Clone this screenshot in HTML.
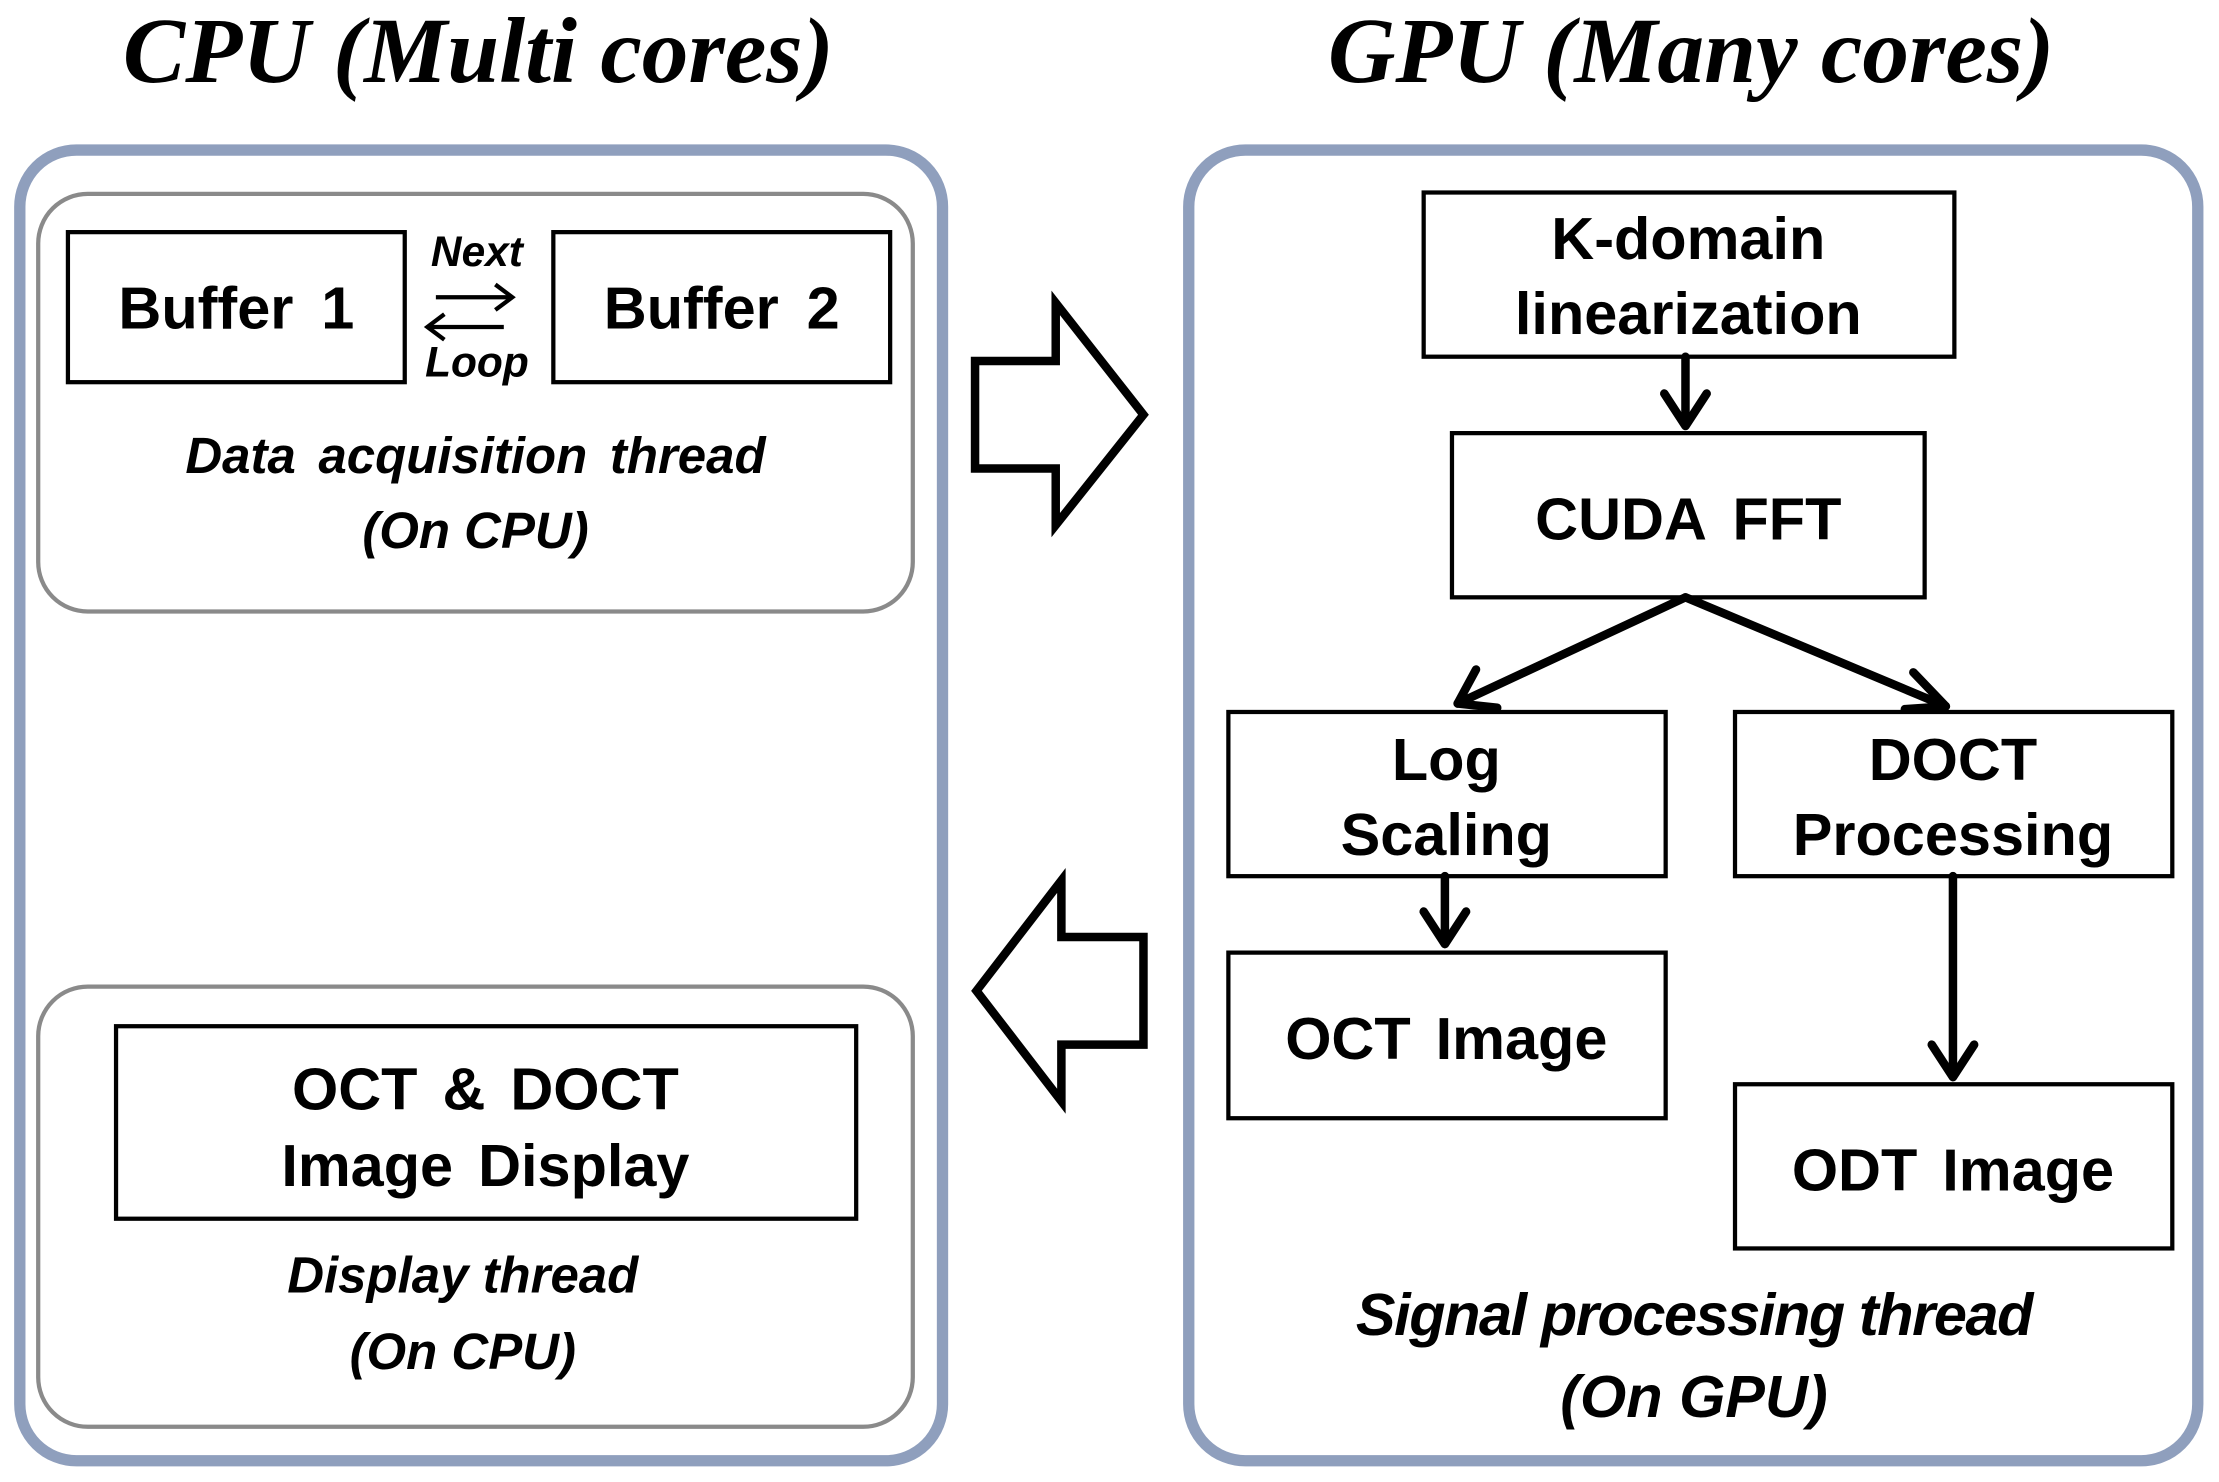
<!DOCTYPE html>
<html><head><meta charset="utf-8"><style>
html,body{margin:0;padding:0;background:#fff;}
svg{display:block;}
.s{font-family:"Liberation Sans",sans-serif;font-weight:bold;}
.t{font-family:"Liberation Serif",serif;font-weight:bold;font-style:italic;}
</style></head><body>
<svg width="2219" height="1482" viewBox="0 0 1568 1047" preserveAspectRatio="none" xmlns="http://www.w3.org/2000/svg">
<text class="t" x="338" y="58" font-size="66" text-anchor="middle">CPU (Multi cores)</text>
<text class="t" x="1195" y="58" font-size="66" text-anchor="middle">GPU (Many cores)</text>

<rect x="14" y="106" width="652" height="926" rx="40" fill="none" stroke="#8f9fbd" stroke-width="8"/>
<rect x="840" y="106" width="713" height="926" rx="40" fill="none" stroke="#8f9fbd" stroke-width="8"/>

<rect x="27" y="137" width="618" height="295" rx="35" fill="none" stroke="#8a8a8a" stroke-width="3"/>
<rect x="48" y="164" width="238" height="106" fill="none" stroke="#000" stroke-width="3"/>
<rect x="391" y="164" width="238" height="106" fill="none" stroke="#000" stroke-width="3"/>
<text class="s" x="167" y="232" font-size="42" text-anchor="middle" word-spacing="8">Buffer 1</text>
<text class="s" x="510" y="232" font-size="42" text-anchor="middle" word-spacing="8">Buffer 2</text>
<text class="s" x="337" y="188" font-size="30" font-style="italic" text-anchor="middle">Next</text>
<text class="s" x="337" y="266" font-size="30" font-style="italic" text-anchor="middle">Loop</text>
<g stroke="#000" stroke-width="3" fill="none">
<line x1="308" y1="210" x2="362" y2="210"/><polyline points="350,201 362,210 350,219"/>
<line x1="302" y1="231" x2="356" y2="231"/><polyline points="314,222 302,231 314,240"/>
</g>
<text class="s" x="336" y="334" font-size="36" font-style="italic" text-anchor="middle" word-spacing="6">Data acquisition thread</text>
<text class="s" x="336" y="387" font-size="36" font-style="italic" text-anchor="middle">(On CPU)</text>

<rect x="27" y="697" width="618" height="311" rx="35" fill="none" stroke="#8a8a8a" stroke-width="3"/>
<rect x="82" y="725" width="523" height="136" fill="none" stroke="#000" stroke-width="3"/>
<text class="s" x="343" y="784" font-size="42" text-anchor="middle" word-spacing="6">OCT &amp; DOCT</text>
<text class="s" x="343" y="838" font-size="42" text-anchor="middle" word-spacing="6">Image Display</text>
<text class="s" x="327" y="913" font-size="36" font-style="italic" text-anchor="middle">Display thread</text>
<text class="s" x="327" y="967" font-size="36" font-style="italic" text-anchor="middle">(On CPU)</text>

<polygon points="689,255 746,255 746,214 808,293 746,371 746,331 689,331" fill="#fff" stroke="#000" stroke-width="6"/>
<polygon points="808,662 750,662 750,622 690,700 750,778 750,738 808,738" fill="#fff" stroke="#000" stroke-width="6"/>

<g fill="none" stroke="#000" stroke-width="3">
<rect x="1006" y="136" width="375" height="116"/>
<rect x="1026" y="306" width="334" height="116"/>
<rect x="868" y="503" width="309" height="116"/>
<rect x="1226" y="503" width="309" height="116"/>
<rect x="868" y="673" width="309" height="117"/>
<rect x="1226" y="766" width="309" height="116"/>
</g>
<g class="s" font-size="42" text-anchor="middle">
<text x="1193" y="183">K-domain</text>
<text x="1193" y="236">linearization</text>
<text x="1193" y="381" word-spacing="8">CUDA FFT</text>
<text x="1022" y="551">Log</text>
<text x="1022" y="604">Scaling</text>
<text x="1380" y="551">DOCT</text>
<text x="1380" y="604">Processing</text>
<text x="1022" y="748" word-spacing="6">OCT Image</text>
<text x="1380" y="841" word-spacing="6">ODT Image</text>
</g>
<g stroke="#000" stroke-width="6" fill="none" stroke-linecap="round" stroke-linejoin="round">
<line x1="1191" y1="252" x2="1191" y2="300"/><polyline points="1176,278 1191,301 1206,278"/>
<line x1="1191" y1="422" x2="1030" y2="497"/><polyline points="1043,473 1030,497 1058,500"/>
<line x1="1191" y1="422" x2="1375" y2="499"/><polyline points="1352,475 1375,499 1346,501"/>
<line x1="1021" y1="619" x2="1021" y2="666"/><polyline points="1006,644 1021,667 1036,644"/>
<line x1="1380" y1="619" x2="1380" y2="760"/><polyline points="1365,738 1380,761 1395,738"/>
</g>
<text class="s" x="1197" y="943" font-size="42" font-style="italic" text-anchor="middle" letter-spacing="-1">Signal processing thread</text>
<text class="s" x="1197" y="1001" font-size="42" font-style="italic" text-anchor="middle">(On GPU)</text>
</svg>
</body></html>
